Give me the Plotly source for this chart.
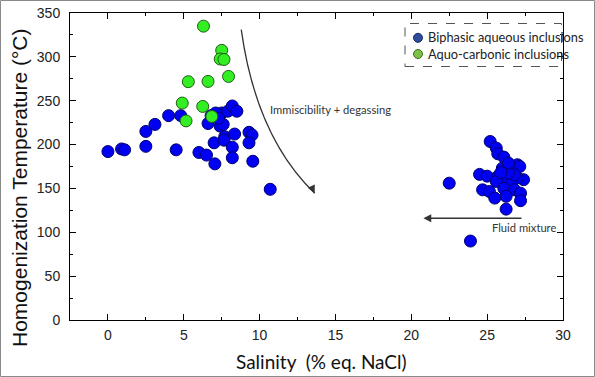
import plotly.graph_objects as go

# Biphasic aqueous inclusions
blue_salinity = [0.0, 0.9, 1.1, 2.5, 2.5, 3.1, 4.0, 4.5, 4.8, 6.0, 6.5, 6.6, 6.8, 7.05, 7.0,
                 7.4, 7.6, 7.5, 7.7, 7.65, 7.9, 8.2, 8.5, 8.35, 8.2, 8.2, 9.3, 9.5, 9.3, 9.55,
                 10.7, 7.1, 7.3,
                 25.2, 25.6, 25.7, 26.1, 27.0, 27.15, 26.0, 26.6, 24.5, 25.0, 25.7, 27.4, 27.0,
                 26.15, 25.6, 26.6, 24.7, 25.15, 26.1, 26.8, 27.2, 25.5, 26.25, 27.2, 26.25,
                 22.5, 26.8, 26.4, 25.9, 26.4, 23.9]
blue_temp = [192, 195, 194, 198, 215, 223, 233, 194, 233, 191, 188, 224, 233, 178, 202,
             221, 223, 236, 209, 205, 238, 244, 238, 212, 197, 185, 214, 211, 202, 181,
             149, 236, 230,
             203.5, 196, 189.5, 185.7, 177, 175, 173, 169, 166, 164, 163.6, 160, 162,
             160, 158, 156, 148.4, 146.5, 150, 148.4, 144.6, 139, 141, 136, 126.4,
             156, 165.5, 167.5, 168, 179, 90]

# Aquo-carbonic inclusions
green_salinity = [6.3, 7.5, 7.4, 7.65, 7.95, 5.3, 6.6, 4.9, 6.25, 5.15, 6.85]
green_temp = [335, 307.4, 297.6, 297, 277.7, 271.7, 272, 247.3, 243.5, 227, 232]

series_names = ["Biphasic aqueous inclusions", "Aquo-carbonic inclusions"]

# Annotation arrows (data coordinates)
immisc_curve_x = [8.79, 9.34, 10.66, 13.63]
immisc_curve_y = [331.1, 262.6, 194.1, 144.6]
mixture_arrow_x = [27.36, 20.8]
mixture_arrow_y = [116, 116]

x_ticks = [0, 5, 10, 15, 20, 25, 30]
y_ticks = [0, 50, 100, 150, 200, 250, 300, 350]

W, H = 595, 377
ML, MR, MT, MB = 70, 32, 13, 57
PW, PH = W - ML - MR, H - MT - MB


def px2paper_x(px):
    return (px - ML) / PW


def px2paper_y(py):
    return (H - MB - py) / PH


fig = go.Figure()

fig.add_trace(go.Scatter(
    x=blue_salinity, y=blue_temp, mode="markers", name=series_names[0], showlegend=False,
    marker=dict(size=12, color="#0000F2", line=dict(color="#000070", width=1)),
))
fig.add_trace(go.Scatter(
    x=green_salinity, y=green_temp, mode="markers", name=series_names[1], showlegend=False,
    marker=dict(size=12, color="#33EE22", line=dict(color="#1F5F14", width=1)),
))

cx, cy = immisc_curve_x, immisc_curve_y
path = (f"M {cx[0]},{cy[0]} C {cx[1]},{cy[1]} {cx[2]},{cy[2]} {cx[3]},{cy[3]}")
fig.add_shape(type="path", path=path, xref="x", yref="y",
              line=dict(color="#333333", width=1.3))
fig.add_annotation(x=cx[3], y=cy[3], ax=cx[3] - 0.25, ay=cy[3] + 9,
                   axref="x", ayref="y", xref="x", yref="y", text="",
                   showarrow=True, arrowhead=2, arrowsize=1.2, arrowwidth=1.3,
                   arrowcolor="#333333")
fig.add_annotation(x=mixture_arrow_x[1], y=mixture_arrow_y[1],
                   ax=mixture_arrow_x[0], ay=mixture_arrow_y[0],
                   axref="x", ayref="y", xref="x", yref="y", text="",
                   showarrow=True, arrowhead=2, arrowsize=1.2, arrowwidth=1.3,
                   arrowcolor="#333333")

fig.add_annotation(x=14.67, y=240.5, xref="x", yref="y", text="Immiscibility + degassing",
                   showarrow=False, font=dict(family="Lato", size=11.2, color="#333333"))
fig.add_annotation(x=27.4, y=105.4, xref="x", yref="y", text="Fluid mixture",
                   showarrow=False, font=dict(family="Lato", size=11.2, color="#333333"))

# manual legend with dashed frame
fig.add_shape(type="rect", xref="paper", yref="paper",
              x0=px2paper_x(405), x1=px2paper_x(561.5), y0=px2paper_y(66.5), y1=px2paper_y(23.5),
              line=dict(color="#555555", width=1, dash="dash"), fillcolor="rgba(0,0,0,0)")
legend_colors = [("#2E4C9C", "#1A2A5A"), ("#7CC044", "#3D6A22")]
legend_rows = [37.8, 54.0]
for (fc, lc), row in zip(legend_colors, legend_rows):
    fig.add_shape(type="circle", xref="paper", yref="paper",
                  xsizemode="pixel", ysizemode="pixel",
                  xanchor=px2paper_x(418), yanchor=px2paper_y(row),
                  x0=-4.5, x1=4.5, y0=-4.5, y1=4.5,
                  fillcolor=fc, line=dict(color=lc, width=1))
fig.add_annotation(x=px2paper_x(425.5), y=px2paper_y(sum(legend_rows) / 2),
                   xref="paper", yref="paper", align="left",
                   xanchor="left", yanchor="middle", text="<br>".join(series_names),
                   showarrow=False,
                   font=dict(family="Lato", size=12.8, color="#222222"))

# axis titles (placed like the original)
fig.add_annotation(x=px2paper_x(19), y=px2paper_y(188), xref="paper", yref="paper",
                   text="Homogenization Temperature (°C)", textangle=-90, showarrow=False,
                   xanchor="center", yanchor="middle",
                   font=dict(family="Liberation Sans", size=21, color="#111111"))
fig.add_annotation(x=px2paper_x(321), y=px2paper_y(361), xref="paper", yref="paper",
                   text="Salinity\u00a0\u00a0(% eq. NaCl)", showarrow=False,
                   xanchor="center", yanchor="middle",
                   font=dict(family="Lato", size=19, color="#111111"))

# outer image frame
fig.add_shape(type="rect", xref="paper", yref="paper",
              x0=px2paper_x(0.5), x1=px2paper_x(W - 0.5), y0=px2paper_y(H - 0.5), y1=px2paper_y(0.5),
              line=dict(color="#8A8A8A", width=1), fillcolor="rgba(0,0,0,0)")

axis_common = dict(
    showline=True, linecolor="black", linewidth=1, mirror="allticks",
    ticks="inside", ticklen=6, tickwidth=1, tickcolor="black",
    showgrid=False, zeroline=False,
    tickfont=dict(family="Liberation Sans", size=14, color="#222222"),
)

fig.update_xaxes(
    range=[-2.5, 30], tickmode="array", tickvals=x_ticks, ticklabelstandoff=2,
    minor=dict(ticks="inside", ticklen=3, tickcolor="black", dtick=2.5, tick0=0),
    **axis_common,
)
fig.update_yaxes(
    range=[0, 350], tickmode="array", tickvals=y_ticks, ticklabelstandoff=6,
    minor=dict(ticks="inside", ticklen=3, tickcolor="black", dtick=25, tick0=0),
    **axis_common,
)

fig.update_layout(
    width=W, height=H,
    margin=dict(l=ML, r=MR, t=MT, b=MB, autoexpand=False),
    plot_bgcolor="white", paper_bgcolor="white",
    showlegend=False,
)

fig.write_html("out.html", config={"displayModeBar": False},
               post_script="document.body.style.margin='0';document.body.style.overflow='hidden';")
